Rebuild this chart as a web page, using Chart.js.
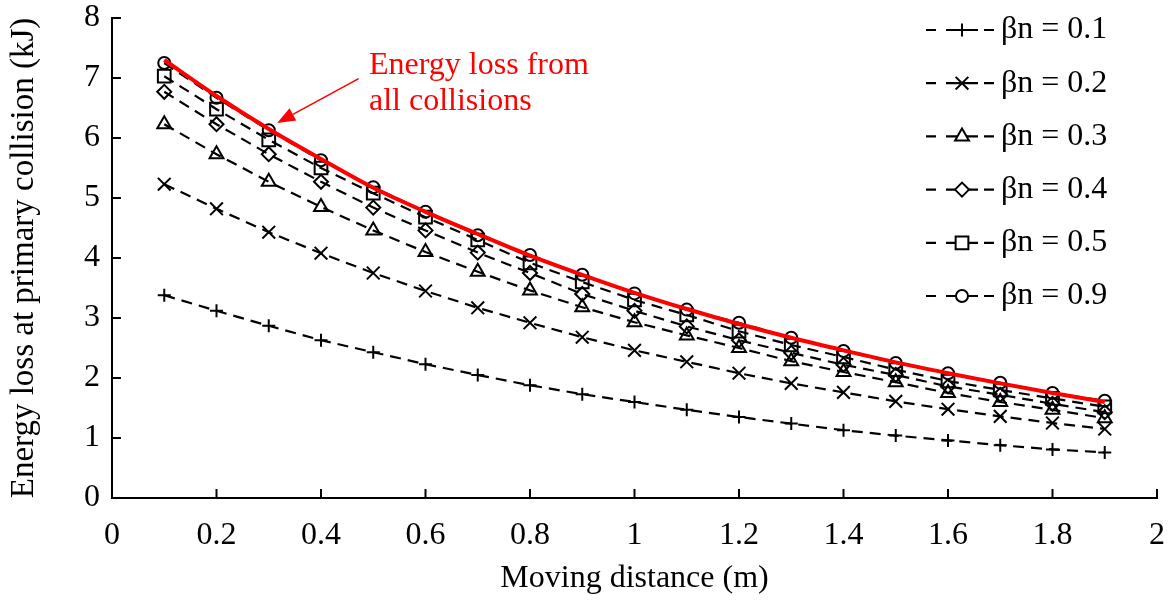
<!DOCTYPE html>
<html>
<head>
<meta charset="utf-8">
<script src="https://cdn.jsdelivr.net/npm/chart.js@4.4.1/dist/chart.umd.min.js"></script>
<style>
  body { margin: 0; background: #fff; }
</style>
</head>
<body>
<canvas id="myChart" width="1171" height="601"></canvas>
<script>
// moving distance (m)
var distance = [0.1, 0.2, 0.3, 0.4, 0.5, 0.6, 0.7, 0.8, 0.9, 1.0, 1.1, 1.2, 1.3, 1.4, 1.5, 1.6, 1.7, 1.8, 1.9];

// energy loss at primary collision (kJ)
var beta01 = [3.38, 3.12, 2.87, 2.63, 2.43, 2.23, 2.05, 1.88, 1.73, 1.60, 1.47, 1.35, 1.24, 1.13, 1.04, 0.96, 0.88, 0.81, 0.76];
var beta02 = [5.23, 4.82, 4.43, 4.08, 3.75, 3.45, 3.17, 2.92, 2.68, 2.46, 2.27, 2.08, 1.91, 1.76, 1.61, 1.48, 1.36, 1.25, 1.15];
var beta03 = [6.23, 5.73, 5.27, 4.85, 4.46, 4.10, 3.77, 3.46, 3.18, 2.93, 2.71, 2.50, 2.28, 2.10, 1.93, 1.75, 1.60, 1.47, 1.33];
var beta04 = [6.77, 6.23, 5.73, 5.27, 4.84, 4.46, 4.09, 3.75, 3.40, 3.12, 2.86, 2.63, 2.42, 2.22, 2.05, 1.86, 1.72, 1.57, 1.43];
var beta05 = [7.03, 6.48, 5.97, 5.50, 5.08, 4.68, 4.30, 3.92, 3.60, 3.30, 3.05, 2.78, 2.55, 2.35, 2.14, 1.95, 1.80, 1.66, 1.52];
var beta09 = [7.25, 6.67, 6.13, 5.63, 5.18, 4.77, 4.38, 4.05, 3.72, 3.41, 3.14, 2.92, 2.67, 2.45, 2.25, 2.08, 1.92, 1.75, 1.62];
var allCollisions = [7.30, 6.70, 6.15, 5.65, 5.17, 4.77, 4.40, 4.04, 3.72, 3.42, 3.15, 2.90, 2.67, 2.46, 2.26, 2.08, 1.91, 1.75, 1.60];

var seriesNames = ['βn = 0.1', 'βn = 0.2', 'βn = 0.3', 'βn = 0.4', 'βn = 0.5', 'βn = 0.9'];
var xTickLabels = ['0', '0.2', '0.4', '0.6', '0.8', '1', '1.2', '1.4', '1.6', '1.8', '2'];
var yTickLabels = ['0', '1', '2', '3', '4', '5', '6', '7', '8'];
var noteLines = ['Energy loss from', 'all collisions'];

var serif = "'Liberation Serif', 'Times New Roman', serif";

function toPoints(values) {
    return values.map(function (v, i) { return { x: distance[i], y: v }; });
}

// marker look for each beta series
var markers = [
    { style: 'cross', radius: 6.5 },
    { style: 'crossRot', radius: 9 },
    { style: 'triangle', radius: 8 },
    { style: 'rectRot', radius: 7 },
    { style: 'rect', radius: 9 },
    { style: 'circle', radius: 6 }
];
var betaSeries = [beta01, beta02, beta03, beta04, beta05, beta09];

var datasets = [{
    label: 'Energy loss from all collisions',
    data: toPoints(allCollisions),
    borderColor: '#ff0000',
    borderWidth: 4,
    pointRadius: 0,
    cubicInterpolationMode: 'monotone'
}];
betaSeries.forEach(function (values, i) {
    datasets.push({
        label: seriesNames[i],
        data: toPoints(values),
        borderColor: '#000',
        borderWidth: 2.2,
        borderDash: [11, 7],
        pointStyle: markers[i].style,
        pointRadius: markers[i].radius,
        pointBorderWidth: 2,
        pointBorderColor: '#000',
        pointBackgroundColor: 'rgba(0,0,0,0)'
    });
});

var extras = {
    id: 'extras',
    afterDraw: function (chart) {
        var ctx = chart.ctx;
        var xs = chart.scales.x, ys = chart.scales.y, area = chart.chartArea;
        ctx.save();
        // inward tick marks
        ctx.strokeStyle = '#000';
        ctx.lineWidth = 2;
        ctx.setLineDash([]);
        ctx.beginPath();
        xs.ticks.forEach(function (t) {
            var px = xs.getPixelForValue(t.value);
            ctx.moveTo(px, area.bottom);
            ctx.lineTo(px, area.bottom - 9);
        });
        ys.ticks.forEach(function (t) {
            var py = ys.getPixelForValue(t.value);
            ctx.moveTo(area.left, py);
            ctx.lineTo(area.left + 9, py);
        });
        ctx.stroke();

        // legend
        var rowY = 30, rowGap = 53.2;
        ctx.font = '32px ' + serif;
        ctx.textBaseline = 'middle';
        ctx.textAlign = 'left';
        seriesNames.forEach(function (name, i) {
            var y = rowY + i * rowGap;
            ctx.strokeStyle = '#000';
            ctx.lineWidth = 2.2;
            ctx.beginPath();
            ctx.moveTo(926, y); ctx.lineTo(936, y);
            ctx.moveTo(946, y); ctx.lineTo(978, y);
            ctx.moveTo(984, y); ctx.lineTo(994, y);
            ctx.stroke();
            ctx.fillStyle = '#fff';
            ctx.lineWidth = 2;
            Chart.helpers.drawPoint(ctx, {
                pointStyle: markers[i].style,
                radius: markers[i].radius,
                borderWidth: 2,
                rotation: 0
            }, 962, y);
            ctx.fillStyle = '#000';
            ctx.fillText(name, 1001, y);
        });

        // red note with arrow
        var tipX = xs.getPixelForValue(0.316), tipY = ys.getPixelForValue(6.25);
        var tailX = xs.getPixelForValue(0.472), tailY = ys.getPixelForValue(6.99);
        var ang = Math.atan2(tipY - tailY, tipX - tailX);
        var headLen = 18, headW = 7;
        var baseX = tipX - headLen * Math.cos(ang), baseY = tipY - headLen * Math.sin(ang);
        ctx.strokeStyle = '#ff0000';
        ctx.fillStyle = '#ff0000';
        ctx.lineWidth = 1.6;
        ctx.beginPath();
        ctx.moveTo(tailX, tailY);
        ctx.lineTo(baseX, baseY);
        ctx.stroke();
        ctx.beginPath();
        ctx.moveTo(tipX, tipY);
        ctx.lineTo(baseX + headW * Math.sin(ang), baseY - headW * Math.cos(ang));
        ctx.lineTo(baseX - headW * Math.sin(ang), baseY + headW * Math.cos(ang));
        ctx.closePath();
        ctx.fill();
        ctx.textBaseline = 'alphabetic';
        ctx.fillText(noteLines[0], 369, 74);
        ctx.fillText(noteLines[1], 369, 110);
        ctx.restore();
    }
};

var ctx = document.getElementById('myChart').getContext('2d');
var chart = new Chart(ctx, {
    type: 'line',
    data: { datasets: datasets },
    options: {
        responsive: false,
        animation: false,
        devicePixelRatio: 1,
        layout: { padding: { top: 18, right: 14, left: 0, bottom: 0 } },
        plugins: {
            legend: { display: false },
            tooltip: { enabled: false }
        },
        scales: {
            x: {
                type: 'linear',
                min: 0,
                max: 2,
                afterFit: function (scale) {
                    scale.height = 103;
                    scale.paddingLeft = 0;
                    scale.paddingRight = 0;
                },
                grid: { display: false, drawTicks: false },
                border: { display: true, color: '#000', width: 2 },
                ticks: {
                    stepSize: 0.2,
                    padding: 18,
                    color: '#000',
                    font: { family: serif, size: 32 },
                    callback: function (value, index) { return xTickLabels[index]; }
                },
                title: {
                    display: true,
                    text: 'Moving distance (m)',
                    color: '#000',
                    font: { family: serif, size: 32 },
                    padding: { top: 0, bottom: 3 }
                }
            },
            y: {
                min: 0,
                max: 8,
                afterFit: function (scale) {
                    scale.width = 112;
                    scale.paddingTop = 0;
                    scale.paddingBottom = 0;
                },
                grid: { display: false, drawTicks: false },
                border: { display: true, color: '#000', width: 2 },
                ticks: {
                    stepSize: 1,
                    padding: 12,
                    color: '#000',
                    font: { family: serif, size: 32, lineHeight: 1.1 },
                    callback: function (value, index) { return yTickLabels[index]; }
                },
                title: {
                    display: true,
                    text: 'Energy loss at primary collision (kJ)',
                    color: '#000',
                    font: { family: serif, size: 33 },
                    padding: { top: 5, bottom: 0 }
                }
            }
        }
    },
    plugins: [extras]
});
</script>
</body>
</html>
